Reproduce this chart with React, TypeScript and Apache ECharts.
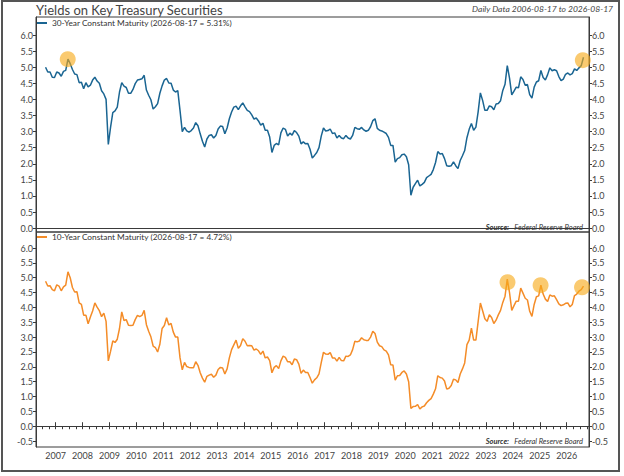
import React, { useEffect, useRef } from 'react';
import * as echarts from 'echarts';

// ---- data (monthly, starting Aug 2006, ending Aug 2026) ----
const START_YEAR = 2006;
const START_MONTH = 8;

const name30 = '30-Year Constant Maturity (2026-08-17 = 5.31%)';
const name10 = '10-Year Constant Maturity (2026-08-17 = 4.72%)';

const y30: number[] = [
  // 2006 Aug-Dec
  5.0, 4.85, 4.85, 4.69, 4.68,
  // 2007
  4.85, 4.82, 4.72, 4.87, 4.9, 5.25, 5.11, 4.93, 4.79, 4.77, 4.52, 4.53,
  // 2008
  4.33, 4.52, 4.39, 4.44, 4.6, 4.69, 4.57, 4.5, 4.27, 4.17, 4.0, 2.6,
  // 2009
  3.13, 3.59, 3.64, 3.76, 4.23, 4.52, 4.41, 4.37, 4.19, 4.19, 4.31, 4.49,
  // 2010
  4.6, 4.62, 4.64, 4.75, 4.29, 4.13, 3.99, 3.7, 3.77, 3.87, 4.19, 4.42,
  // 2011
  4.6, 4.65, 4.51, 4.5, 4.29, 4.23, 4.27, 3.65, 3.0, 3.13, 3.02, 2.98,
  // 2012
  3.03, 3.11, 3.28, 3.18, 2.93, 2.7, 2.52, 2.77, 2.88, 2.9, 2.8, 2.88,
  // 2013
  3.08, 3.17, 3.16, 2.93, 3.11, 3.4, 3.61, 3.76, 3.79, 3.68, 3.8, 3.89,
  // 2014
  3.77, 3.66, 3.62, 3.52, 3.39, 3.42, 3.33, 3.2, 3.26, 3.04, 3.04, 2.83,
  // 2015
  2.35, 2.57, 2.63, 2.59, 2.96, 3.11, 3.07, 2.86, 2.95, 2.89, 3.03, 2.97,
  // 2016
  2.86, 2.62, 2.68, 2.62, 2.63, 2.45, 2.18, 2.26, 2.35, 2.5, 2.86, 3.11,
  // 2017
  3.02, 3.03, 3.08, 2.94, 2.96, 2.8, 2.88, 2.8, 2.78, 2.88, 2.8, 2.77,
  // 2018
  2.88, 3.13, 3.09, 3.07, 3.13, 3.05, 3.01, 3.04, 3.15, 3.34, 3.4, 3.1,
  // 2019
  3.04, 3.02, 2.98, 2.94, 2.82, 2.57, 2.57, 2.05, 2.16, 2.19, 2.28, 2.3,
  // 2020
  2.22, 1.97, 1.02, 1.27, 1.38, 1.49, 1.31, 1.36, 1.42, 1.57, 1.62, 1.67,
  // 2021
  1.82, 2.04, 2.38, 2.3, 2.32, 2.16, 1.94, 1.92, 1.94, 2.06, 1.94, 1.85,
  // 2022
  2.1, 2.25, 2.41, 2.81, 3.07, 3.25, 3.04, 3.14, 3.61, 4.2, 3.97, 3.66,
  // 2023
  3.66, 3.8, 3.77, 3.68, 3.86, 3.87, 3.96, 4.28, 4.47, 5.05, 4.66, 4.14,
  // 2024
  4.26, 4.38, 4.36, 4.7, 4.62, 4.44, 4.46, 4.15, 4.04, 4.38, 4.54, 4.58,
  // 2025
  4.9, 4.68, 4.6, 4.77, 4.98, 4.89, 4.92, 4.89, 4.71, 4.58, 4.63, 4.78,
  // 2026 Jan-Aug
  4.82, 4.76, 4.8, 4.95, 4.9, 4.98, 5.05, 5.31,
];

const y10: number[] = [
  // 2006 Aug-Dec
  4.88, 4.72, 4.73, 4.6, 4.56,
  // 2007
  4.76, 4.72, 4.56, 4.69, 4.75, 5.2, 5.0, 4.67, 4.52, 4.53, 4.15, 4.1,
  // 2008
  3.74, 3.74, 3.45, 3.68, 3.88, 4.15, 4.01, 3.89, 3.69, 3.81, 3.53, 2.2,
  // 2009
  2.52, 2.87, 2.82, 2.93, 3.29, 3.85, 3.56, 3.59, 3.4, 3.39, 3.4, 3.59,
  // 2010
  3.73, 3.69, 3.73, 3.9, 3.42, 3.2, 3.01, 2.7, 2.65, 2.5, 2.76, 3.29,
  // 2011
  3.39, 3.65, 3.41, 3.46, 3.17, 3.0, 3.0, 2.3, 1.9, 2.15, 2.01, 1.98,
  // 2012
  1.97, 1.97, 2.17, 2.05, 1.8, 1.62, 1.48, 1.68, 1.72, 1.75, 1.65, 1.72,
  // 2013
  1.91, 1.98, 1.96, 1.76, 1.93, 2.3, 2.58, 2.74, 2.9, 2.62, 2.72, 2.95,
  // 2014
  2.86, 2.71, 2.72, 2.71, 2.56, 2.6, 2.54, 2.42, 2.53, 2.3, 2.33, 2.21,
  // 2015
  1.8, 1.98, 2.04, 1.94, 2.2, 2.36, 2.32, 2.17, 2.17, 2.07, 2.26, 2.24,
  // 2016
  2.09, 1.78, 1.89, 1.81, 1.81, 1.64, 1.45, 1.56, 1.63, 1.76, 2.14, 2.49,
  // 2017
  2.43, 2.42, 2.48, 2.3, 2.3, 2.19, 2.32, 2.21, 2.2, 2.36, 2.35, 2.4,
  // 2018
  2.58, 2.86, 2.84, 2.87, 2.98, 2.91, 2.89, 2.89, 3.0, 3.2, 3.12, 2.83,
  // 2019
  2.71, 2.68, 2.57, 2.53, 2.4, 2.07, 2.06, 1.55, 1.7, 1.71, 1.81, 1.86,
  // 2020
  1.76, 1.5, 0.6, 0.66, 0.67, 0.73, 0.58, 0.65, 0.68, 0.79, 0.87, 0.93,
  // 2021
  1.08, 1.26, 1.7, 1.64, 1.62, 1.52, 1.25, 1.28, 1.37, 1.58, 1.56, 1.47,
  // 2022
  1.76, 1.93, 2.13, 2.75, 2.9, 3.3, 2.9, 2.9, 3.52, 4.15, 3.89, 3.62,
  // 2023
  3.53, 3.75, 3.66, 3.46, 3.57, 3.75, 3.9, 4.17, 4.38, 4.95, 4.5, 3.9,
  // 2024
  4.06, 4.21, 4.21, 4.65, 4.48, 4.31, 4.25, 3.87, 3.7, 4.1, 4.36, 4.39,
  // 2025
  4.75, 4.45, 4.28, 4.2, 4.42, 4.38, 4.39, 4.26, 4.12, 4.06, 4.09, 4.14,
  // 2026 Jan-Aug
  4.15, 4.02, 4.1, 4.4, 4.45, 4.55, 4.6, 4.72,
];

// highlighted points (decimal year, yield)
const hi30: [number, number][] = [[2007.45, 5.25], [2026.6, 5.22]];
const hi10: [number, number][] = [[2023.8, 4.85], [2025.03, 4.75], [2026.57, 4.68]];

const yearLabels = [2007, 2008, 2009, 2010, 2011, 2012, 2013, 2014, 2015, 2016,
  2017, 2018, 2019, 2020, 2021, 2022, 2023, 2024, 2025, 2026];
const topTicks = [0, 0.5, 1, 1.5, 2, 2.5, 3, 3.5, 4, 4.5, 5, 5.5, 6];
const bottomTicks = [-0.5, 0, 0.5, 1, 1.5, 2, 2.5, 3, 3.5, 4, 4.5, 5, 5.5, 6];

const XMIN = 2006.27;
const XMAX = 2026.83;

const FONT = 'Lato, "Open Sans", sans-serif';
const BLUE = '#1a6592';
const ORANGE = '#f48c28';
const CIRCLE = 'rgba(247,170,25,0.78)';
const AX = '#3a3a3a';
const TXT = '#444';

function toSeries(vals: number[]): [number, number][] {
  return vals.map((v, i) => [START_YEAR + (START_MONTH - 1 + i + 0.5) / 12, v]);
}

const quarterTicks: number[] = [];
for (let y = 2006; y <= 2027; y++) {
  for (let q = 0; q < 4; q++) {
    const v = y + q / 4;
    if (v > XMIN && v < XMAX) quarterTicks.push(v);
  }
}

export default function App() {
  const ref = useRef<HTMLDivElement>(null);
  useEffect(() => {
    if (!ref.current) return;
    const chart = echarts.init(ref.current, undefined, { renderer: 'svg' });
    const yAxisBase = (grid: number, pos: 'left' | 'right', ticks: number[], min: number, max: number) => ({
      type: 'value',
      gridIndex: grid,
      position: pos,
      min,
      max,
      splitLine: { show: false },
      axisLine: { show: true, lineStyle: { color: AX, width: 1 } },
      axisTick: { show: true, customValues: ticks, length: 3, lineStyle: { color: AX } },
      axisLabel: {
        show: true,
        customValues: ticks,
        formatter: (v: number) => v.toFixed(1),
        fontSize: 9,
        fontFamily: FONT,
        color: TXT,
        margin: 3,
      },
    });
    const legendBase = {
      padding: 0, icon: 'rect', itemWidth: 10, itemHeight: 2, selectedMode: false,
      textStyle: { fontSize: 8.3, fontFamily: FONT, color: '#333' },
    };
    chart.setOption({
      animation: false,
      backgroundColor: '#fff',
      grid: [
        { left: 36, right: 35, top: 17, height: 215, show: true, borderColor: AX, borderWidth: 1, backgroundColor: 'transparent' },
        { left: 36, right: 35, top: 232, height: 215, show: true, borderColor: AX, borderWidth: 1, backgroundColor: 'transparent' },
      ],
      legend: [
        { ...legendBase, data: [name30], left: 37, top: 19 },
        { ...legendBase, data: [name10], left: 37, top: 233 },
      ],
      xAxis: [
        {
          type: 'value', gridIndex: 0, min: XMIN, max: XMAX,
          splitLine: { show: false }, axisLine: { show: true, lineStyle: { color: AX } },
          axisTick: { show: false }, axisLabel: { show: false },
        },
        {
          type: 'value', gridIndex: 1, min: XMIN, max: XMAX,
          splitLine: { show: false }, axisLine: { show: true, lineStyle: { color: AX } },
          axisTick: { show: true, customValues: quarterTicks, length: 3, lineStyle: { color: AX } },
          axisLabel: {
            show: true, customValues: yearLabels, formatter: (v: number) => String(Math.round(v)),
            fontSize: 9, fontFamily: FONT, color: TXT, margin: 4,
          },
        },
        {
          type: 'value', gridIndex: 1, min: XMIN, max: XMAX,
          splitLine: { show: false }, axisLine: { show: false },
          axisTick: { show: true, customValues: yearLabels, length: 4, lineStyle: { color: AX } },
          axisLabel: { show: false },
        },
      ],
      yAxis: [
        yAxisBase(0, 'left', topTicks, -0.12, 6.56),
        yAxisBase(0, 'right', topTicks, -0.12, 6.56),
        yAxisBase(1, 'left', bottomTicks, -0.7, 6.54),
        yAxisBase(1, 'right', bottomTicks, -0.7, 6.54),
      ],
      series: [
        {
          name: name30, type: 'line', xAxisIndex: 0, yAxisIndex: 0, data: toSeries(y30),
          showSymbol: false, symbol: 'none', color: BLUE, lineStyle: { color: BLUE, width: 1.5 }, z: 2,
        },
        {
          name: 'hi30', type: 'scatter', xAxisIndex: 0, yAxisIndex: 0, data: hi30,
          symbolSize: 16, itemStyle: { color: CIRCLE }, z: 3,
        },
        {
          name: name10, type: 'line', xAxisIndex: 1, yAxisIndex: 2, data: toSeries(y10),
          showSymbol: false, symbol: 'none', color: ORANGE, lineStyle: { color: ORANGE, width: 1.5 }, z: 2,
        },
        {
          name: 'hi10', type: 'scatter', xAxisIndex: 1, yAxisIndex: 2, data: hi10,
          symbolSize: 16, itemStyle: { color: CIRCLE }, z: 3,
        },
      ],
      graphic: [
        {
          type: 'rect', shape: { x: 2, y: 1, width: 617, height: 470 }, silent: true,
          style: { fill: 'none', stroke: '#555', lineWidth: 2 }, z: 100,
        },
        {
          type: 'text', x: 36, y: 16,
          style: {
            text: 'Yields on Key Treasury Securities', fontSize: 13, fontFamily: FONT,
            fill: '#444', verticalAlign: 'bottom', align: 'left',
          },
        },
        {
          type: 'text', x: 613, y: 9,
          style: {
            text: 'Daily Data 2006-08-17 to 2026-08-17', fontSize: 8.5, fontStyle: 'italic',
            fontFamily: FONT, fill: '#444', verticalAlign: 'middle', align: 'right',
          },
        },
        {
          type: 'text', x: 583, y: 227.5,
          style: {
            text: '{b|Source:}   Federal Reserve Board', fontSize: 7.5, fontStyle: 'italic',
            fontFamily: FONT, fill: '#333', verticalAlign: 'middle', align: 'right',
            rich: { b: { fontWeight: 'bold', fontStyle: 'italic', fontSize: 7.5, fontFamily: FONT, fill: '#333' } },
          },
        },
        {
          type: 'text', x: 583, y: 441.5,
          style: {
            text: '{b|Source:}   Federal Reserve Board', fontSize: 7.5, fontStyle: 'italic',
            fontFamily: FONT, fill: '#333', verticalAlign: 'middle', align: 'right',
            rich: { b: { fontWeight: 'bold', fontStyle: 'italic', fontSize: 7.5, fontFamily: FONT, fill: '#333' } },
          },
        },
      ],
    });
    return () => chart.dispose();
  }, []);
  return (
    <div
      ref={ref}
      style={{ position: 'absolute', left: 0, top: 0, width: 624, height: 476, background: '#fff' }}
    />
  );
}
